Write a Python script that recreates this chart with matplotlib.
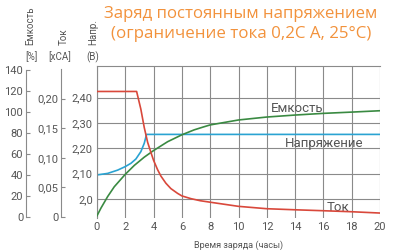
import numpy as np
import matplotlib
matplotlib.use("Agg")
import matplotlib.pyplot as plt

plt.rcParams["font.family"] = ["Roboto", "DejaVu Sans"]

# ---------------- data ----------------
t_cur   = [0, 2.8, 3.1, 3.34, 3.58, 3.81, 4.0, 4.28, 4.52, 4.87, 5.22, 5.69, 6.0,
           6.64, 7.3, 8, 10, 12, 14, 16, 18, 20]
current = [0.212, 0.212, 0.182, 0.151, 0.126, 0.109, 0.0956, 0.080, 0.069, 0.057,
           0.048, 0.040, 0.0356, 0.031, 0.0275, 0.025, 0.018, 0.014, 0.0122, 0.0106,
           0.0089, 0.0067]

t_volt  = [0, 0.75, 1.46, 2.0, 2.4, 2.75, 3.1, 3.34, 3.5, 20]
voltage = [2.095, 2.101, 2.114, 2.128, 2.141, 2.158, 2.187, 2.220, 2.255, 2.255]

t_cap    = [0, 0.28, 0.75, 1.22, 2.0, 2.64, 3.34, 4.0, 4.99, 6.0, 6.87, 7.53, 8, 10,
            12, 14, 16, 18, 20]
capacity = [1.2, 8.5, 19.4, 28.8, 40.7, 49.2, 57.0, 63.3, 71.7, 78.3, 83.0, 85.8,
            87.7, 92.4, 95.2, 97.1, 98.7, 99.9, 101.2]

x_ticks   = list(range(0, 21, 2))
v_ticks   = [2.0, 2.1, 2.2, 2.3, 2.4]
v_labels  = ["2,0", "2,10", "2,20", "2,30", "2,40"]
c_ticks   = [0, 0.05, 0.10, 0.15, 0.20]
c_labels  = ["0", "0,05", "0,10", "0,15", "0,20"]
cap_ticks = list(range(0, 141, 20))

title_lines = ["Заряд постоянным напряжением", "(ограничение тока 0,2C A, 25°C)"]

RED, GREEN, BLUE = "#d9483b", "#3a8a42", "#2aa3d2"
GRID, TXT, ORANGE = "#8a8a8a", "#555555", "#f2923c"

# ---------------- figure ----------------
fig = plt.figure(figsize=(4, 2.5), dpi=100)
pos = [0.2425, 0.128, 0.7075, 0.608]
ax = fig.add_axes(pos)
ax.set_xlim(0, 20)
ax.set_ylim(1.925, 2.525)
ax.set_xticks(x_ticks)
ax.set_yticks(v_ticks)
ax.set_yticklabels(v_labels)
ax.grid(True, color=GRID, lw=0.8)
for s in ["right", "bottom"]:
    ax.spines[s].set_visible(False)
for s in ["top", "left"]:
    ax.spines[s].set_color(GRID); ax.spines[s].set_linewidth(0.8)
ax.tick_params(length=0, labelsize=8, colors=TXT, pad=3)

# twin axes for capacity and current on the same plot area
ax_cap = ax.twinx(); ax_cap.set_ylim(-0.94, 143.8)
ax_cur = ax.twinx(); ax_cur.set_ylim(-0.00167, 0.255)
for a in (ax_cap, ax_cur):
    a.axis("off")

ax.plot(t_volt, voltage, color=BLUE, lw=1.2)
ax_cap.plot(t_cap, capacity, color=GREEN, lw=1.2)
ax_cur.plot(t_cur, current, color=RED, lw=1.2)

ax.text(12.3, 2.343, "Емкость", fontsize=9.5, color=TXT)
ax.text(13.26, 2.205, "Напряжение", fontsize=9.5, color=TXT)
ax.text(16.2, 1.953, "Ток", fontsize=9.5, color=TXT)
ax.set_xlabel("Время заряда (часы)", fontsize=6.5, color=TXT, labelpad=6)

# separate left scales (spine only)
def side_axis(x, ylim, ticks, labels):
    a = fig.add_axes([x, pos[1], 0.0001, pos[3]])
    a.set_ylim(*ylim)
    a.set_yticks(ticks); a.set_yticklabels(labels)
    a.set_xticks([])
    for s in ["top", "right", "bottom"]:
        a.spines[s].set_visible(False)
    a.spines["left"].set_color(GRID); a.spines["left"].set_linewidth(0.8)
    a.tick_params(axis="y", direction="in", length=3, color=GRID,
                  labelsize=8, labelcolor=TXT, pad=2)
    return a

a1 = side_axis(0.065, (-0.94, 143.8), cap_ticks, [str(v) for v in cap_ticks])
a1.spines["left"].set_bounds(0, 140)
a2 = side_axis(0.1525, (-0.00167, 0.255), c_ticks, c_labels)
a2.spines["left"].set_bounds(0, 0.25)

# headers
fig.text(0.075, 0.82, "Емкость", rotation=90, fontsize=7, color=TXT, ha="center", va="bottom")
fig.text(0.16, 0.82, "Ток", rotation=90, fontsize=7, color=TXT, ha="center", va="bottom")
fig.text(0.232, 0.82, "Напр.", rotation=90, fontsize=7, color=TXT, ha="center", va="bottom")
fig.text(0.078, 0.772, "[%]", fontsize=7, color=TXT, ha="center", va="center")
fig.text(0.15, 0.772, "[xCA]", fontsize=7, color=TXT, ha="center", va="center")
fig.text(0.232, 0.772, "(В)", fontsize=7, color=TXT, ha="center", va="center")

# title, sized to the width it has in the reference
renderer = fig.canvas.get_renderer()
for line, y, width_px in zip(title_lines, [0.942, 0.862], [272, 258]):
    t = fig.text(0.6025, y, line, fontsize=12, color=ORANGE, ha="center", va="center",
                 family=["Open Sans", "DejaVu Sans"])
    w = t.get_window_extent(renderer).width
    t.set_fontsize(12 * width_px / w)

fig.savefig("out.png", dpi=100)
